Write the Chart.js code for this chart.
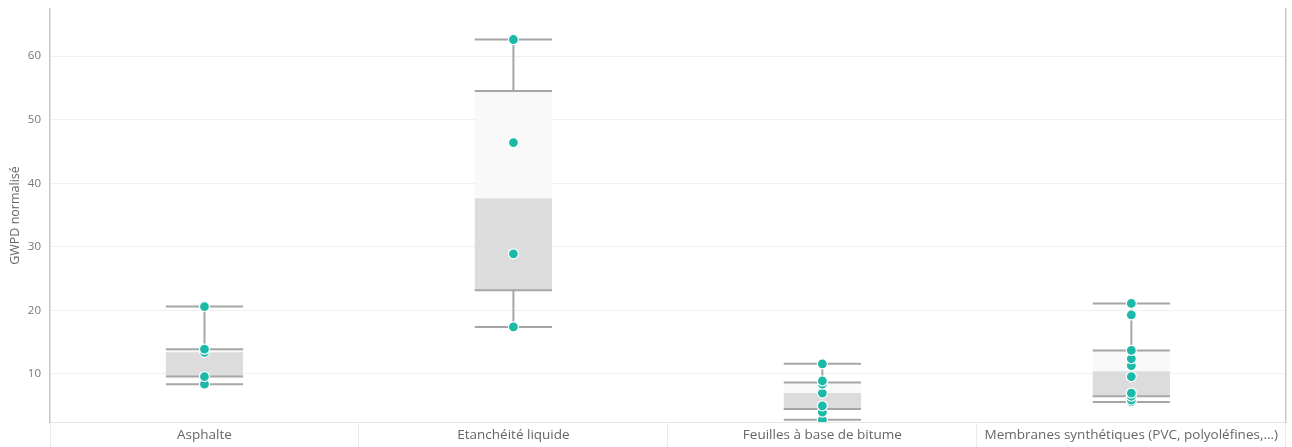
<!DOCTYPE html>
<html>
<head>
<meta charset="utf-8">
<script src="https://cdn.jsdelivr.net/npm/chart.js@4.4.1/dist/chart.umd.min.js"></script>
<style>
  html, body { margin: 0; padding: 0; background: #fff; }
  #wrap { width: 1292px; height: 447px; position: relative; }
</style>
</head>
<body>
<div id="wrap"><canvas id="chart"></canvas></div>
<script>
// values, one list per category
const categories = ["Asphalte", "Etanchéité liquide", "Feuilles à base de bitume", "Membranes synthétiques (PVC, polyoléfines,...)"]
const asphalte = [8.4, 9.6, 13.4, 13.9, 20.6]
const etancheite = [17.4, 28.9, 46.4, 62.6]
const feuilles = [2.8, 4.0, 5.0, 7.0, 8.4, 8.9, 11.6]
const membranes = [5.6, 5.9, 6.5, 7.0, 9.6, 11.3, 12.4, 13.7, 19.3, 21.1]
const yTicks = [10, 20, 30, 40, 50, 60]
const yMin = 2.45
const yMax = 67.4

const series = [asphalte, etancheite, feuilles, membranes]

// Tukey hinges (median of each half, median included for odd counts)
function median(arr) {
  const m = arr.length
  return m % 2 ? arr[(m - 1) / 2] : (arr[m / 2 - 1] + arr[m / 2]) / 2
}
function boxStats(vals) {
  const s = [...vals].sort((a, b) => a - b)
  const n = s.length, half = Math.ceil(n / 2)
  return { min: s[0], q1: median(s.slice(0, half)), med: median(s), q3: median(s.slice(n - half)), max: s[n - 1] }
}
const stats = series.map(boxStats)

const points = []
series.forEach((vals, i) => vals.forEach(v => points.push({ x: categories[i], y: v })))

// whiskers and caps go under the points but over the boxes
const whiskers = {
  id: "whiskers",
  beforeDatasetDraw(chart, args) {
    if (args.index !== 2) return
    const { ctx, chartArea } = chart
    const y = chart.scales.y
    const bars = chart.getDatasetMeta(0).data
    ctx.save()
    ctx.beginPath()
    ctx.rect(chartArea.left, chartArea.top, chartArea.right - chartArea.left, chartArea.bottom - chartArea.top)
    ctx.clip()
    ctx.strokeStyle = "#a6a6a6"
    ctx.lineWidth = 2
    stats.forEach((s, i) => {
      const x = bars[i].x, hw = bars[i].width / 2
      ctx.beginPath()
      for (const v of [s.min, s.q1, s.q3, s.max]) {
        const py = y.getPixelForValue(v)
        ctx.moveTo(x - hw, py)
        ctx.lineTo(x + hw, py)
      }
      ctx.moveTo(x, y.getPixelForValue(s.q3))
      ctx.lineTo(x, y.getPixelForValue(s.max))
      ctx.moveTo(x, y.getPixelForValue(s.q1))
      ctx.lineTo(x, y.getPixelForValue(s.min))
      ctx.stroke()
    })
    ctx.restore()
  }
}

// drop the half-label padding Chart.js reserves above/below vertical axes
const noPad = s => { s.paddingTop = 0; s.paddingBottom = 0 }

Chart.defaults.font.family = "'Segoe UI', 'Open Sans', sans-serif"

new Chart(document.getElementById("chart"), {
  type: "bar",
  data: {
    labels: categories,
    datasets: [
      {
        label: "upper",
        data: stats.map(s => [s.med, s.q3]),
        backgroundColor: "#f9f9f9",
        barPercentage: 0.25,
        categoryPercentage: 1,
        grouped: false,
        order: 2
      },
      {
        label: "lower",
        data: stats.map(s => [s.q1, s.med]),
        backgroundColor: "#dcdcdc",
        barPercentage: 0.25,
        categoryPercentage: 1,
        grouped: false,
        order: 1
      },
      {
        type: "line",
        label: "points",
        data: points,
        showLine: false,
        pointRadius: 5,
        pointBackgroundColor: "#1bb9a8",
        pointBorderColor: "#ffffff",
        pointBorderWidth: 1.2,
        order: 0
      }
    ]
  },
  options: {
    responsive: true,
    maintainAspectRatio: false,
    animation: false,
    layout: { padding: { top: 9, right: 0, left: 0, bottom: 0 } },
    plugins: { legend: { display: false }, tooltip: { enabled: false } },
    scales: {
      x: {
        offset: true,
        grid: { offset: true, drawOnChartArea: false, tickLength: 25, color: "#ebebeb" },
        border: { color: "#e6e6e6" },
        ticks: { color: "#666", font: { size: 13.5 }, padding: -20, maxRotation: 0, autoSkip: false },
        afterFit: s => { s.height = 25 }
      },
      y: {
        min: yMin,
        max: yMax,
        afterBuildTicks: s => { s.ticks = yTicks.map(v => ({ value: v })) },
        grid: { color: "#f0f0f0", drawTicks: false },
        border: { color: "#c8c8c8", width: 1.5 },
        ticks: { color: "#777", font: { size: 11.5 }, padding: 9 },
        title: { display: true, text: "GWPD normalisé", color: "#666", font: { size: 12.5 }, padding: { top: 8, bottom: 0 } },
        afterFit: s => { s.width = 50; noPad(s) }
      },
      y2: {
        position: "right",
        min: yMin,
        max: yMax,
        grid: { drawOnChartArea: false, drawTicks: false },
        border: { color: "#c8c8c8", width: 1.5 },
        ticks: { display: false },
        afterFit: s => { s.width = 5; noPad(s) }
      }
    }
  },
  plugins: [whiskers]
})
</script>
</body>
</html>
